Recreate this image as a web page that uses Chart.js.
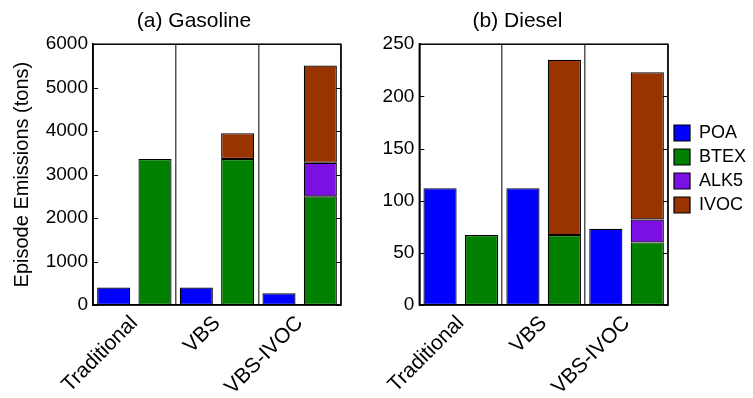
<!DOCTYPE html>
<html>
<head>
<meta charset="utf-8">
<script src="https://cdn.jsdelivr.net/npm/chart.js@4.4.1/dist/chart.umd.min.js"></script>
<style>
  html, body { margin: 0; padding: 0; background: #fff; }
  #wrap { position: relative; width: 753px; height: 398px; overflow: hidden; }
  canvas { position: absolute; top: 0; }
</style>
</head>
<body>
<div id="wrap">
  <canvas id="chartGas" width="388" height="398" style="left:0"></canvas>
  <canvas id="chartDsl" width="500" height="398" style="left:278px"></canvas>
</div>
<script>
// --- DATA (tons) ---
const groups = ['Traditional', 'VBS', 'VBS-IVOC'];
const species = ['POA', 'BTEX', 'ALK5', 'IVOC'];
const colors = ['#0000ff', '#007f00', '#7c10e4', '#993300'];

// stacked segments, one value per group
const gasPOA  = [400, 400, 270];
const gasBTEX = [3360, 3360, 2500];
const gasALK5 = [0, 0, 770];
const gasIVOC = [0, 590, 2240];

const dslPOA  = [112, 112, 73];
const dslBTEX = [67, 67, 60];
const dslALK5 = [0, 0, 22];
const dslIVOC = [0, 168, 141];

const gasTicks = [0, 1000, 2000, 3000, 4000, 5000, 6000];
const dslTicks = [0, 50, 100, 150, 200, 250];

const FONT = "'Liberation Sans', Arial, Helvetica, sans-serif";

// each group has two bar slots: POA on the left, the stack on the right
function slots(vals, side) {
    const out = [];
    vals.forEach(v => {
        const val = v === 0 ? null : v;
        if (side === 0) out.push(val, null);
        else out.push(null, val);
    });
    return out;
}

function makeDatasets(poa, btex, alk5, ivoc) {
    const parts = [[poa, 0], [btex, 1], [alk5, 1], [ivoc, 1]];
    return parts.map((p, i) => ({
        label: species[i],
        data: slots(p[0], p[1]),
        backgroundColor: colors[i],
        borderColor: '#000',
        borderWidth: 1.2,
        borderSkipped: false,
        barPercentage: 0.8,
        categoryPercentage: 1.0
    }));
}

// box around the axes and small inward ticks, like the original
const framePlugin = {
    id: 'frame',
    afterDatasetsDraw(chart) {
        const { ctx, chartArea: a, scales: { y } } = chart;
        ctx.save();
        ctx.strokeStyle = '#000';
        ctx.lineWidth = 1;
        y.ticks.forEach(t => {
            const py = Math.round(y.getPixelForValue(t.value)) + 0.5;
            ctx.beginPath();
            ctx.moveTo(a.left, py); ctx.lineTo(a.left + 5, py);
            ctx.moveTo(a.right, py); ctx.lineTo(a.right - 5, py);
            ctx.stroke();
        });
        ctx.lineWidth = 1.5;
        ctx.strokeRect(a.left, a.top, a.right - a.left, a.bottom - a.top);
        ctx.restore();
    }
};

function makeChart(id, title, datasets, yMax, yTicks, opts) {
    const ctx = document.getElementById(id).getContext('2d');
    const scales = {
        x: { display: false, stacked: true, offset: true },
        x2: {
            type: 'category', labels: groups, position: 'bottom', offset: true,
            grid: { offset: true, color: '#555', lineWidth: 1.5, drawTicks: false },
            border: { display: true, color: '#000', width: 1.5 },
            ticks: {
                color: '#000', font: { family: FONT, size: 21 },
                maxRotation: 45, minRotation: 45, padding: 6
            },
            afterFit(scale) { scale.height = 93; }
        },
        y: {
            stacked: true, min: 0, max: yMax,
            afterBuildTicks(scale) { scale.ticks = yTicks.map(v => ({ value: v })); },
            grid: { display: false, drawTicks: false },
            border: { display: true, color: '#000', width: 1.5 },
            ticks: { color: '#000', font: { family: FONT, size: 19 }, padding: 5, callback: v => String(v) },
            title: opts.yTitle,
            afterFit(scale) { scale.width = opts.yWidth; }
        }
    };
    if (opts.rightGap) {
        // empty right-hand axis, only to keep the plot area where the original has it
        scales.yr = {
            position: 'right', min: 0, max: yMax,
            grid: { display: false, drawTicks: false },
            border: { display: false },
            ticks: { display: false },
            afterFit(scale) { scale.width = opts.rightGap; }
        };
    }
    return new Chart(ctx, {
        type: 'bar',
        data: { labels: ['1', '2', '3', '4', '5', '6'], datasets: datasets },
        options: {
            responsive: false,
            animation: false,
            layout: { padding: opts.padding },
            plugins: {
                title: {
                    display: true, text: title, color: '#000',
                    font: { family: FONT, size: 21, weight: 'normal' },
                    padding: { top: 9, bottom: 10 }
                },
                legend: opts.legend,
                tooltip: { enabled: false }
            },
            scales: scales
        },
        plugins: [framePlugin]
    });
}

const gasOpts = {
    padding: { left: 0, right: 0, top: 0, bottom: 0 },
    yWidth: 93,
    rightGap: 47,
    legend: { display: false },
    yTitle: {
        display: true, text: 'Episode Emissions (tons)', color: '#000',
        font: { family: FONT, size: 20 }, padding: { top: 10, bottom: 0 }
    }
};
const gasChart = makeChart('chartGas', '(a) Gasoline',
    makeDatasets(gasPOA, gasBTEX, gasALK5, gasIVOC), 6000, gasTicks, gasOpts);

const dslOpts = {
    padding: { left: 0, right: 0, top: 0, bottom: 0 },
    yWidth: 141,
    legend: {
        display: true, position: 'right', align: 'start',
        title: { display: true, text: ' ', font: { size: 10 }, padding: { top: 100, bottom: 0 } },
        labels: {
            color: '#000', font: { family: FONT, size: 18 },
            boxWidth: 16, boxHeight: 16, padding: 6
        }
    },
    yTitle: { display: false }
};
const dslChart = makeChart('chartDsl', '(b) Diesel',
    makeDatasets(dslPOA, dslBTEX, dslALK5, dslIVOC), 250, dslTicks, dslOpts);

// place the diesel canvas so the plot spans x=419..668 and the title sits at x=517
const dslCanvas = document.getElementById('chartDsl');
const dslLeft = 367 - dslChart.legend.width;
dslCanvas.style.left = dslLeft + 'px';
dslOpts.yWidth = 419.3 - dslLeft;
dslChart.options.layout.padding = { left: 0, right: 500 - 2 * (517.5 - dslLeft), top: 0, bottom: 0 };
dslChart.update('none');

// first legend row top at y=125
const firstTop = dslChart.legend.legendHitBoxes[0].top;
dslChart.options.plugins.legend.title.padding = { top: 100 + 124 - firstTop, bottom: 0 };
dslChart.update('none');
</script>
</body>
</html>
